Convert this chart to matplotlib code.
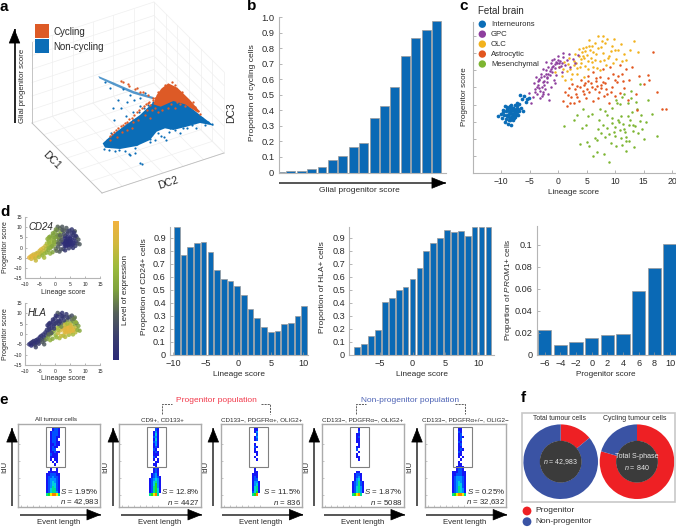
import numpy as np
import matplotlib
matplotlib.use('Agg')
import matplotlib.pyplot as plt
from matplotlib.patches import Polygon, Rectangle, Circle
from matplotlib.colors import LinearSegmentedColormap, ListedColormap

plt.rcParams['font.family'] = ['Liberation Sans', 'DejaVu Sans']
plt.rcParams['mathtext.fontset'] = 'custom'
plt.rcParams['mathtext.rm'] = 'Liberation Sans'
plt.rcParams['mathtext.it'] = 'Liberation Sans:italic'
plt.rcParams['mathtext.bf'] = 'Liberation Sans:bold'

# ---------- panel b
glial_values = [0.002, 0.01, 0.007, 0.022, 0.035, 0.08, 0.105, 0.165, 0.19, 0.35, 0.425, 0.55, 0.75, 0.865, 0.915, 0.975]
# ---------- panel d bars
cd24_values = [0.98, 0.765, 0.83, 0.86, 0.87, 0.79, 0.655, 0.585, 0.57, 0.53, 0.46, 0.35, 0.285, 0.215, 0.18, 0.185, 0.235, 0.245, 0.30, 0.375]
hla_values = [0.065, 0.085, 0.145, 0.195, 0.405, 0.435, 0.495, 0.525, 0.585, 0.67, 0.795, 0.86, 0.90, 0.955, 0.945, 0.95, 0.91, 0.985, 0.985, 0.985]
prom1_scores = [-6, -4, -2, 0, 2, 4, 6, 8, 10]
prom1_values = [0.0225, 0.009, 0.0115, 0.0155, 0.0185, 0.019, 0.0585, 0.079, 0.101]

# ---------- panel a: projected clouds
a_noncycling_outline_x = [38, 60, 100, 150, 190, 230, 280, 330, 372, 330, 290, 250, 225, 200, 180, 140, 90, 45]
a_noncycling_outline_y = [235, 215, 185, 150, 112, 100, 110, 150, 182, 174, 185, 195, 190, 200, 225, 243, 252, 248]
a_cycling_outline_x = [235, 262, 300, 330, 322, 285, 250, 212, 190, 200, 215]
a_cycling_outline_y = [55, 68, 105, 140, 142, 118, 108, 125, 118, 90, 70]
a_wing_x = [25, 70, 130, 190, 190, 130, 70, 28]
a_wing_y = [33, 52, 78, 96, 103, 86, 60, 40]
a_noncycling_x = [42, 58, 75, 88, 105, 118, 135, 62, 80, 98, 112, 128, 148, 162, 175, 190, 205, 222, 238, 255, 270, 292, 305, 318, 85, 92, 70, 120, 133, 150, 165, 150, 180, 195, 212, 228, 240, 260, 278, 295, 150, 155, 100, 110, 128, 60, 45, 108, 72, 170, 225, 245, 205, 185, 315, 345, 355, 365, 335, 290, 230, 215, 50, 115, 140, 180, 255, 270, 120, 135]
a_noncycling_y = [252, 256, 258, 254, 258, 266, 263, 205, 200, 190, 178, 165, 140, 128, 120, 112, 205, 215, 200, 195, 205, 190, 180, 188, 105, 130, 128, 90, 105, 122, 85, 100, 232, 225, 212, 225, 190, 180, 190, 175, 294, 297, 72, 112, 142, 68, 50, 152, 165, 165, 150, 165, 172, 200, 170, 180, 172, 178, 160, 140, 135, 150, 226, 232, 238, 222, 160, 150, 270, 250]
a_cycling_x = [60, 72, 85, 98, 110, 125, 140, 155, 168, 178, 185, 195, 205, 180, 170, 215, 235, 255, 270, 285, 300, 315, 325, 330, 245, 225, 205, 195, 255, 275, 100, 118, 135, 150, 92, 115, 140, 160, 175, 190, 165, 180, 130, 145, 95, 110, 125, 60, 80, 310, 66, 78, 92, 104, 118, 132, 148, 162, 175, 188, 205, 222, 242, 262]
a_cycling_y = [212, 202, 190, 180, 170, 158, 142, 130, 118, 110, 135, 128, 142, 120, 135, 135, 128, 128, 118, 122, 122, 125, 138, 148, 50, 60, 80, 100, 60, 82, 52, 62, 72, 82, 48, 58, 68, 80, 90, 98, 150, 158, 172, 165, 200, 195, 188, 225, 215, 112, 206, 194, 184, 175, 163, 150, 136, 124, 114, 104, 118, 112, 118, 110]

# ---------- panel c: fetal brain cells (lineage, progenitor)
intern_x = [-10.6, -10.1, -9.9, -9.7, -9.5, -9.4, -9.2, -9.1, -9.0, -8.9, -8.8, -8.7, -8.6, -8.5, -8.4, -8.3, -8.2, -8.1, -8.0, -7.9, -7.8, -7.7, -7.6, -7.5, -7.4, -7.3, -7.2, -7.1, -7.0, -6.8, -6.6, -6.4, -6.2, -6.0, -5.7, -5.4, -5.1, -8.9, -8.5, -8.3, -8.0, -7.9, -7.6, -7.4, -8.7, -8.2, -7.7, -7.2, -9.3, -6.7, -8.6, -8.1, -7.8, -8.4, -7.5, -9.6, -9.0, -6.9]
intern_y = [-3.4, -2.6, -4.0, -1.6, -3.0, -5.0, -2.0, -4.2, -0.8, -3.0, -5.6, -1.8, -3.6, -0.4, -4.6, -2.4, -6.0, -3.2, -0.9, -4.4, -1.9, -2.9, -0.2, -3.6, -1.2, -2.3, 0.6, -1.4, -3.0, 0.2, -0.9, 1.6, -1.8, 2.4, 0.8, 1.6, 2.0, -1.2, -2.0, -3.8, -2.6, -1.1, -2.0, -3.0, -4.6, -0.1, -3.9, -0.4, -0.5, 2.9, -2.8, -1.6, -3.2, -1.0, -2.6, -2.2, -3.4, -2.0]
gpc_x = [-5.1, -4.5, -4.2, -4.0, -3.9, -3.7, -3.5, -3.3, -3.2, -3.0, -2.8, -2.7, -2.5, -2.3, -2.2, -2.0, -1.8, -1.7, -1.5, -1.3, -1.2, -1.0, -0.8, -0.7, -0.5, -0.3, -0.2, 0.0, 0.2, 0.4, 0.6, 0.9, 1.2, 1.6, 2.1, -3.4, -2.9, -2.4, -1.9, -1.4, -0.9, -0.4, -3.8, -3.1, -2.6, 1.9, 2.6, -1.1, -2.1, 0.8, 3.0, 3.5, -0.6, -1.6, -4.7, -2.7, -3.6, -3.0, -2.4, -1.8, -1.2, -0.6, 0.1, 0.7, -3.3, -2.6, -2.0, -1.0, -0.1, 0.5, -4.1, -2.2]
gpc_y = [3.4, 2.2, 6.4, 4.6, 8.1, 3.0, 5.8, 7.2, 4.0, 9.0, 2.5, 6.5, 8.2, 4.6, 10.0, 6.6, 3.0, 11.0, 8.6, 5.2, 12.0, 9.6, 7.0, 13.2, 10.6, 8.6, 12.2, 14.0, 10.8, 12.6, 9.4, 13.8, 11.6, 13.0, 11.0, 7.4, 5.2, 6.9, 7.8, 9.8, 11.2, 12.5, 5.0, 1.8, 3.6, 14.6, 13.2, 13.0, 12.4, 15.0, 12.0, 14.4, 6.2, 1.4, 0.6, 10.2, 6.8, 7.9, 5.8, 9.0, 10.4, 11.8, 12.2, 12.0, 4.9, 3.1, 8.0, 11.0, 13.0, 11.2, 3.8, 8.8]
olc_x = [-0.6, 0.2, 0.6, 1.0, 1.5, 1.9, 2.3, 2.7, 3.0, 3.4, 3.7, 4.0, 4.3, 4.6, 4.9, 5.2, 5.5, 5.8, 6.1, 6.4, 6.7, 7.0, 7.3, 7.6, 7.9, 8.2, 8.6, 9.0, 9.4, 9.8, 10.2, 10.6, 11.0, 11.5, 12.0, 12.6, 13.4, 14.0, 4.2, 4.5, 4.8, 3.2, 2.4, 5.9, 6.8, 7.8, 8.8, 9.6, 1.2, 2.0, 3.8, 5.4, 6.2, 7.4, 8.4, 10.0, 3.6, 4.4, 5.0, 5.6, 6.4, 7.0, 7.7, 8.1, 2.8, 3.3, 4.1, 4.7, 5.3, 6.0, 1.7, 0.9, 9.2, 11.3]
olc_y = [9.6, 11.0, 8.2, 12.5, 9.8, 13.6, 7.4, 11.4, 14.8, 9.0, 16.2, 12.0, 14.0, 8.0, 16.8, 10.4, 18.8, 13.6, 11.0, 17.8, 14.8, 19.8, 12.6, 16.8, 15.0, 18.0, 19.2, 14.0, 17.0, 19.0, 13.2, 16.0, 17.6, 14.8, 13.0, 16.0, 18.6, 15.2, 15.2, 13.6, 15.6, 12.2, 8.8, 12.4, 10.6, 19.8, 13.4, 12.0, 7.0, 10.4, 11.0, 17.0, 15.4, 10.0, 11.6, 15.8, 14.2, 16.4, 14.4, 16.0, 13.0, 16.4, 18.4, 13.0, 12.8, 10.6, 13.2, 11.2, 12.8, 17.0, 11.8, 10.4, 15.6, 12.6]
astro_x = [0.9, 1.2, 1.5, 1.9, 2.2, 2.5, 2.8, 3.1, 3.4, 3.7, 4.0, 4.3, 4.6, 4.9, 5.2, 5.5, 5.8, 6.1, 6.4, 6.7, 7.0, 7.3, 7.6, 7.9, 8.2, 8.5, 8.8, 9.1, 9.4, 9.7, 10.0, 10.4, 10.8, 11.2, 11.6, 12.0, 12.5, 13.0, 13.6, 14.2, 15.0, 16.0, 16.7, 17.4, 18.2, 18.9, 3.3, 4.8, 6.2, 7.5, 8.9, 10.5, 12.2, 13.9, 15.7, 5.1, 6.6, 8.0, 9.2, 3.9, 4.5, 5.3, 5.9, 6.9, 7.2, 7.8, 8.4, 2.1, 2.9, 1.7, 9.9, 10.9, 11.4]
astro_y = [1.0, 3.6, -0.4, 4.8, 2.2, 6.0, 0.4, 3.2, 5.4, 1.0, 7.0, 4.0, 5.8, 2.0, 8.4, 3.6, 6.2, 9.4, 4.6, 6.8, 1.8, 8.0, 4.8, 10.2, 6.2, 3.0, 7.6, 11.0, 5.0, 9.0, 2.4, 6.6, 11.6, 9.0, 4.8, 10.4, 7.0, 11.0, 3.0, 8.4, 6.0, 7.2, 15.4, 3.6, -1.4, -1.2, 2.2, 6.2, 1.0, 5.8, 0.6, 8.2, 1.4, -1.6, 8.6, 4.4, 7.6, 2.6, 3.8, 5.0, 3.0, 6.8, 5.0, 5.4, 3.6, 6.6, 4.6, 0.6, 4.4, 2.8, 7.0, 3.4, 6.8]
mes_x = [1.0, 2.7, 3.3, 3.9, 4.4, 4.9, 5.4, 5.9, 6.4, 6.8, 7.2, 7.6, 8.0, 8.3, 8.6, 8.9, 9.2, 9.5, 9.8, 10.1, 10.4, 10.7, 11.0, 11.3, 11.6, 11.9, 12.2, 12.5, 12.8, 13.1, 13.4, 13.7, 14.0, 14.3, 14.6, 15.0, 15.4, 15.8, 16.4, 17.3, 9.9, 10.6, 11.2, 11.8, 12.4, 13.0, 9.5, 10.2, 10.9, 7.8, 6.9, 5.2, 12.0, 13.2, 14.4, 8.5, 11.5, 12.8, 9.0, 7.4, 4.2, 5.0, 6.2, 10.0, 10.8, 11.4, 12.0, 12.7, 13.5, 9.4, 8.2, 7.0, 14.8, 13.9, 11.1, 12.3]
mes_y = [-6.2, -4.4, -3.0, -11.4, -1.4, -6.0, -12.0, -2.6, -9.8, -13.8, -4.6, -8.4, -14.4, -1.8, -6.8, -16.6, -11.2, -3.8, -8.0, -12.0, 0.4, -5.2, -9.6, 2.2, -7.0, -13.4, -3.2, -10.6, 4.0, -6.0, -12.4, 0.8, -8.4, 6.0, -3.0, -10.0, -5.0, 1.2, -2.8, -9.2, -6.6, -4.6, -11.8, -8.0, -6.0, -2.2, -1.0, 1.4, 0.2, -6.0, -10.4, -3.4, -9.4, -7.6, -4.8, -3.0, 3.0, 2.0, -8.6, -1.2, -6.8, -10.8, -15.0, -9.0, -7.4, -5.6, -10.6, -4.4, -6.2, -5.4, -9.4, -7.2, -7.0, -1.4, -3.4, 0.4]
fetal_names = ['Interneurons', 'GPC', 'OLC', 'Astrocytic', 'Mesenchymal']
fetal_colors = ['#0B6DB7', '#8E3F9E', '#F2B21E', '#E2561F', '#7DB531']

# ---------- panel d: small scatter (same cells, two expression levels)
d_lineage = [-8.6,-8.1,-7.9,-7.6,-7.3,-7.1,-6.8,-6.6,-6.3,-6.1,-5.8,-5.5,
             -5.4,-5.1,-4.9,-4.6,-4.4,-4.2,-3.9,-3.7,-3.5,-3.2,-3.0,-2.8,
             -2.7,-2.4,-2.2,-2.0,-1.8,-1.5,-1.3,-1.1,-0.9,-0.6,-0.4,-0.2,
             0.0,0.2,0.4,0.6,0.8,1.0,1.2,1.4,1.6,1.8,2.0,2.2,
             2.4,2.6,2.8,3.0,3.2,3.4,3.6,3.8,4.0,4.2,4.4,4.6,
             4.8,5.0,5.2,5.4,5.6,5.8,6.0,6.2,6.4,6.6,6.8,7.0,
             3.1,3.5,3.9,4.3,4.7,5.1,3.3,3.7,4.1,4.5,4.9,5.3,
             7.2,7.5,7.8,8.2,6.6,-1.6,-0.8,0.9,1.5,-3.6,-6.4,-2.0,
             -2.5,-1.6,-0.7,0.3,1.3,-1.9,-1.2,-0.3,0.7,1.7,2.5,-2.1,
             3.0,4.2,5.6,2.1,1.1,6.9,5.9,-0.1,0.5,3.4,2.0,6.3]
d_progenitor = [-5.0,-4.4,-5.6,-3.9,-4.9,-3.4,-4.3,-5.2,-3.0,-4.1,-2.6,-3.6,
                -4.7,-1.6,-3.1,-0.9,-2.4,-3.9,-0.2,-1.7,-3.0,0.8,-0.8,-2.5,
                2.0,0.6,-1.3,3.4,1.6,-0.2,4.6,2.7,0.7,6.0,3.8,1.5,
                7.6,-0.6,5.2,2.8,8.6,0.4,6.4,3.9,9.4,1.7,7.5,5.1,
                10.2,2.8,-0.8,8.4,0.8,5.6,3.4,9.6,1.7,6.8,4.2,-0.4,
                8.3,2.4,5.4,0.9,7.1,3.6,-0.2,6.0,2.1,4.6,0.8,3.0,
                1.9,2.6,3.0,1.2,3.3,4.4,4.4,0.7,5.0,2.9,1.4,3.1,
                5.2,2.0,3.9,1.6,8.0,-3.0,-2.3,10.2,-2.0,-5.0,-6.4,5.0,
                4.2,5.4,7.0,8.9,4.8,2.4,0.5,2.6,6.0,6.0,8.6,-0.2,
                6.6,7.9,8.9,3.5,2.0,5.8,1.6,4.8,-1.6,-1.4,-0.9,7.4]
d_cd24 = [.95,.9,.85,.9,.95,.85,.9,.8,.85,.9,.8,.9,
          .7,.85,.8,.9,.75,.6,.85,.8,.65,.8,.75,.6,
          .7,.75,.55,.6,.7,.55,.6,.65,.5,.5,.6,.55,
          .5,.4,.55,.45,.4,.3,.5,.4,.4,.2,.5,.35,
          .3,.08,.2,.35,.1,.1,.03,.3,.05,.1,.02,.15,
          .15,.03,.05,.05,.1,.05,.1,.12,.05,.08,.15,.06,
          .03,.02,.04,.03,.02,.03,.04,.03,.05,.02,.03,.04,
          .25,.2,.3,.3,.3,.6,.5,.35,.3,.7,.8,.55,
          .6,.55,.5,.45,.45,.65,.55,.55,.45,.35,.3,.6,
          .25,.2,.12,.3,.35,.1,.04,.5,.35,.12,.25,.1]
d_hla = [.05,.1,.0,.08,.05,.1,.06,.15,.08,.05,.1,.06,
         .15,.05,.1,.1,.2,.3,.08,.12,.3,.08,.15,.45,
         .1,.12,.5,.08,.15,.6,.08,.1,.55,.06,.1,.6,
         .1,.65,.15,.7,.08,.8,.12,.6,.1,.85,.1,.3,
         .1,.9,.7,.15,.9,.5,.92,.12,.95,.4,.9,.7,
         .3,.95,.6,.9,.35,.85,.7,.45,.9,.6,.75,.8,
         .9,.92,.88,.95,.9,.85,.8,.9,.7,.95,.92,.88,
         .4,.6,.5,.55,.4,.6,.55,.3,.7,.3,.2,.1,
         .08,.08,.08,.08,.15,.12,.3,.15,.12,.12,.1,.35,
         .12,.15,.25,.45,.7,.6,.9,.12,.65,.75,.8,.4]
expression_colors = ['#2B2A78', '#3B3F6E', '#55605A', '#7FA23E', '#9DBB3C', '#D2B93E', '#F3B23F']

# ---------- panel e: flow density read as cells (digit = density class, 0 = empty)
flow_titles = ['All tumour cells', 'CD9+, CD133+', 'CD133−, PDGFRα+, OLIG2+', 'CD133−, PDGFRα−, OLIG2+', 'CD133−, PDGFRα+/−, OLIG2−']
flow_s = ['1.95%', '12.8%', '11.5%', '1.87%', '0.25%']
flow_n = ['42,983', '4427', '836', '5088', '32,632']
flow_grids = [
    ["0001221", "0012221", "0012221", "0012211", "0012210", "0012211", "0011211", "0012110", "0012200",
     "0011211", "0021110", "0011110", "0010110", "0001010", "0000100", "0000000", "0010010", "0111110",
     "1122211", "1223221", "1233321", "1234321", "1234421", "1235421", "1245521", "1245531", "5678875"],
    ["0000210", "0001310", "0001410", "0002310", "0001410", "0002310", "0001310", "0001210", "0002100",
     "0001210", "0001110", "0002100", "0001010", "0000110", "0001100", "0000100", "0001210", "0001210",
     "0012310", "0012321", "0123431", "0124531", "0124631", "0125631", "0125641", "0125641", "0567850"],
    ["0001100", "0001300", "0000200", "0001300", "0001200", "0000000", "0001000", "0002100", "0001000",
     "0001100", "0000100", "0001000", "0000100", "0000000", "0000000", "0000000", "0001000", "0001100",
     "0011100", "0012100", "0012200", "0013310", "0013410", "0014510", "0014510", "0024610", "0056800"],
    ["0000100", "0000200", "0001100", "0001200", "0001100", "0001100", "0000100", "0001100", "0002000",
     "0000100", "0001000", "0001100", "0000100", "0000000", "0000000", "0000000", "0000000", "0001100",
     "0012210", "0012310", "0013410", "0123521", "0123521", "0124531", "0124531", "0124531", "0567850"],
    ["0001100", "0002100", "0001200", "0001210", "0001200", "0002100", "0001200", "0001100", "0001210",
     "0002100", "0001100", "0001010", "0000100", "0001000", "0001100", "0011110", "0012210", "1112211",
     "1122211", "1233321", "1233321", "1234321", "1234421", "1235421", "1235431", "1235431", "5678875"],
]
flow_colors = ['#1414F5', '#0050FF', '#0090FF', '#00CFE0', '#00DF90', '#20DF20', '#F0F000', '#FF8000', '#E01010']

# ---------- panel f
donut_total = [0.14, 0.86]
donut_cycling = [0.795, 0.205]
donut_colors = ['#EE2024', '#3A53A4']

BAR = '#0A69B5'
BAR_EDGE = '#9A9A9A'
TXT = '#2A2A2A'
W, H = 676, 527
fig = plt.figure(figsize=(W / 100, H / 100), dpi=100, facecolor='white')


def axpx(l, t, r, b, **kw):
    return fig.add_axes([l / W, 1 - b / H, (r - l) / W, (b - t) / H], **kw)


def style(ax, size=7):
    for s in ('top', 'right'):
        ax.spines[s].set_visible(False)
    for s in ('left', 'bottom'):
        ax.spines[s].set_color('#B5B5B5')
        ax.spines[s].set_linewidth(0.8)
    ax.tick_params(length=2, width=0.5, color='#999999', direction='in', labelsize=size, labelcolor=TXT, pad=3)


ov = axpx(0, 0, W, H, zorder=20)
ov.set_xlim(0, W)
ov.set_ylim(H, 0)
ov.axis('off')


def T(x, y, s, size=6.5, ha='center', va='center', **kw):
    kw.setdefault('color', TXT)
    ov.text(x, y, s, fontsize=size, ha=ha, va=va, **kw)


def arrow(x0, y0, x1, y1, shaft='#555555', lw=1.4, hl=1.05, hw=0.42):
    ov.plot([x0, x1], [y0, y1], color=shaft, lw=lw, solid_capstyle='butt')
    dx, dy = x1 - x0, y1 - y0
    d = np.hypot(dx, dy)
    ov.annotate('', xy=(x1, y1), xytext=(x1 - dx / d * 9, y1 - dy / d * 9),
                arrowprops=dict(arrowstyle=f'-|>,head_length={hl},head_width={hw}', color='black', lw=0.5,
                                shrinkA=0, shrinkB=0, mutation_scale=9))


for lab, x, y in [('a', 4, 7), ('b', 252, 6), ('c', 464, 6), ('d', 5, 212), ('e', 4, 400), ('f', 523, 398)]:
    T(x, y, lab, size=11, fontweight='bold', color='black')

# ---- a : 3D box
L, F, R, B = np.array([32, 123.]), np.array([102, 193.]), np.array([224, 153.]), np.array([154, 83.])
up = np.array([0, -81.])
grid_c = '#EFEFEF'
n = 7
for t in np.linspace(0, 1, n):
    for p, q in [(L + (B - L) * t, F + (R - F) * t), (L + (F - L) * t, B + (R - B) * t),
                 (L + (B - L) * t, L + (B - L) * t + up), (B + (R - B) * t, B + (R - B) * t + up),
                 (L + up * t, B + up * t), (B + up * t, R + up * t)]:
        ov.plot([p[0], q[0]], [p[1], q[1]], color=grid_c, lw=0.5, zorder=1)
for p, q in [(L, F), (F, R)]:
    ov.plot([p[0], q[0]], [p[1], q[1]], color='#BDBDBD', lw=0.6, zorder=1)
ov.plot([L[0], L[0]], [L[1], L[1] + up[1]], color='#BDBDBD', lw=0.6, zorder=1)

aa = axpx(90, 65, 230, 175, zorder=21)
aa.set_xlim(0, 420)
aa.set_ylim(330, 0)
aa.axis('off')
aa.add_patch(Polygon(np.c_[a_wing_x, a_wing_y], fc='#0B6DB7', ec='none', alpha=0.7))
aa.add_patch(Polygon(np.c_[a_noncycling_outline_x, a_noncycling_outline_y], fc='#0B6DB7', ec='none', zorder=2))
aa.scatter(a_noncycling_x, a_noncycling_y, s=2.5, color='#0B6DB7', lw=0, zorder=2)
aa.add_patch(Polygon(np.c_[a_cycling_outline_x, a_cycling_outline_y], fc='#DD5A26', ec='none', zorder=3))
aa.scatter(a_cycling_x, a_cycling_y, s=2.8, color='#DD5A26', lw=0, zorder=3)

arrow(14.5, 123, 14.5, 29, shaft='black', lw=1.2)
ov.add_patch(Rectangle((35, 24), 14, 14, fc='#DD5A26', ec='none'))
ov.add_patch(Rectangle((35, 39), 14, 14, fc='#0B6DB7', ec='none'))
T(53.5, 32, 'Cycling', size=7, ha='left')
T(53.5, 47, 'Non-cycling', size=7, ha='left')
T(23, 86, 'Glial progenitor score', size=5.6, rotation=90)
T(52, 160, 'DC1', size=7.5, rotation=-45)
T(168, 183, 'DC2', size=7.5, rotation=18)
T(231, 113, 'DC3', size=7.5, rotation=90)

# ---- b
ab = axpx(278.5, 17, 446, 172.5, zorder=5)
style(ab, 6.7)
ab.bar(np.arange(16), glial_values, width=0.85, color=BAR, edgecolor=BAR_EDGE, linewidth=0.5)
ab.set_xlim(-0.17, 15.9)
ab.set_ylim(0, 1)
ab.set_yticks(np.arange(0, 1.01, 0.1))
ab.set_yticklabels(['0', '0.1', '0.2', '0.3', '0.4', '0.5', '0.6', '0.7', '0.8', '0.9', '1.0'])
ab.set_xticks([])
T(253, 93, 'Proportion of cycling cells', size=6.0, rotation=90)
arrow(279, 183, 446, 183)
T(359, 191, 'Glial progenitor score', size=6.0)

# ---- c
ac = axpx(473.3, 22, 676, 172.7, zorder=5)
style(ac, 6.2)
for xs, ys, col in zip([mes_x, astro_x, olc_x, gpc_x, intern_x], [mes_y, astro_y, olc_y, gpc_y, intern_y], fetal_colors[::-1]):
    ac.scatter(xs, ys, s=3.2 if col != fetal_colors[0] else 7, color=col, lw=0)
ac.set_xlim(-14.9, 20.7)
ac.set_ylim(-19.8, 24)
ac.set_xticks([-10, -5, 0, 5, 10, 15, 20])
ac.set_yticks(np.arange(-15, 21, 5))
ac.set_yticklabels([])
T(464, 97, 'Progenitor score', size=5.8, rotation=90)
T(573.5, 193, 'Lineage score', size=5.9)
T(477.5, 11.5, 'Fetal brain', size=7, ha='left')
for i, (nm, col) in enumerate(zip(fetal_names, fetal_colors)):
    yy = 24.2 + i * 9.95
    ov.add_patch(Circle((482.3, yy), 3.7, fc=col, ec='none'))
    T(491, yy, nm, size=5.6, ha='left')

# ---- d small scatter
expr = LinearSegmentedColormap.from_list('expr', expression_colors)
for top, bottom, level, name in [(217, 278, d_cd24, 'CD24'), (303, 365, d_hla, 'HLA')]:
    am = axpx(25, top, 100, bottom, zorder=5)
    style(am, 3.6)
    am.scatter(d_lineage, d_progenitor, c=level, cmap=expr, vmin=0, vmax=1, s=10, lw=0, alpha=0.85)
    am.set_xlim(-10, 15)
    am.set_ylim(-15, 15)
    am.set_xticks(np.arange(-10, 16, 5))
    am.set_yticks(np.arange(-15, 16, 5))
    am.tick_params(axis='x', pad=3, length=1.5)
    am.tick_params(axis='y', pad=2, length=1.5)
    T(63, bottom + 14, 'Lineage score', size=5)
    T(6, (top + bottom) / 2, 'Progenitor score', size=5, rotation=90)
    T(28, top + 10, name, size=7, ha='left', style='italic')

cb = axpx(112.7, 220.7, 118.7, 360, zorder=5)
cb.imshow(np.linspace(1, 0, 128)[:, None], cmap=expr, aspect='auto')
cb.axis('off')
T(125.5, 290, 'Level of expression', size=5.9, rotation=90)

# ---- d bars
a1 = axpx(170, 226.7, 308, 355, zorder=5)
style(a1, 6.6)
a1.bar(np.arange(20) * 1.03 - 9.45, cd24_values, width=0.86, color=BAR, edgecolor=BAR_EDGE, linewidth=0.5)
a1.set_xlim(-10.5, 10.7)
a1.set_ylim(0, 0.984)
a1.set_xticks([-10, -5, 0, 5, 10])
a1.set_yticks(np.arange(0, 0.91, 0.1))
a1.set_yticklabels(['0', '0.1', '0.2', '0.3', '0.4', '0.5', '0.6', '0.7', '0.8', '0.9'])
T(144, 287, 'Proportion of CD24+ cells', size=6.05, rotation=90)
T(238.7, 375, 'Lineage score', size=5.95)

a2 = axpx(349.3, 226.7, 494.3, 355, zorder=5)
style(a2, 6.6)
a2.bar(np.arange(20) * 1.056 - 8.47, hla_values, width=0.88, color=BAR, edgecolor=BAR_EDGE, linewidth=0.5)
a2.set_xlim(-9.7, 12.5)
a2.set_ylim(0, 0.984)
a2.set_xticks([-5, 0, 5, 10])
a2.set_yticks(np.arange(0, 0.91, 0.1))
a2.set_yticklabels(['0', '0.1', '0.2', '0.3', '0.4', '0.5', '0.6', '0.7', '0.8', '0.9'])
T(323, 287, 'Proportion of HLA+ cells', size=6.0, rotation=90)
T(422, 375, 'Lineage score', size=5.95)

a3 = axpx(536.7, 225.7, 676, 355, zorder=5)
style(a3, 6.6)
a3.bar(prom1_scores, prom1_values, width=1.7, color=BAR, edgecolor=BAR_EDGE, linewidth=0.5)
a3.set_xlim(-7.02, 10.76)
a3.set_ylim(0, 0.1175)
a3.set_xticks(prom1_scores)
a3.set_yticks([0, 0.02, 0.04, 0.06, 0.08, 0.1])
a3.set_yticklabels(['0', '0.02', '0.04', '0.06', '0.08', '0.1'])
T(508, 290, r'Proportion of $\mathit{PROM1}$+ cells', size=5.9, rotation=90)
T(606, 375, 'Progenitor score', size=5.85)

# ---- e
flow_lefts = [18.3, 119.3, 220.7, 322.3, 424.5]
flow_arrow_x = [12, 113.3, 213.3, 314.3, 417]
flow_title_x = [55.7, 162, 261.3, 362.5, 465]
density = ListedColormap(flow_colors)
for i, left in enumerate(flow_lefts):
    axf = axpx(left, 424.3, left + 81.5, 506.7, zorder=5)
    grid = np.array([[int(c) for c in row] for row in flow_grids[i]], dtype=float)
    grid = np.ma.masked_where(grid == 0, grid)
    xe = 27.7 + np.arange(grid.shape[1] + 1) * 2.0
    ye = 3.7 + np.arange(grid.shape[0] + 1) * 2.5
    axf.pcolormesh(xe, ye, grid, cmap=density, vmin=0.5, vmax=9.5, shading='flat')
    axf.add_patch(Rectangle((28, 2.4), 19, 40, fc='none', ec='#808080', lw=0.8))
    axf.set_xlim(0, 81.5)
    axf.set_ylim(82.4, 0)
    for s in axf.spines.values():
        s.set_color('#ABABAB')
        s.set_linewidth(1)
    axf.set_xticks(np.arange(3, 40, 6))
    axf.set_yticks([20, 37, 54, 71])
    axf.set_xticklabels([])
    axf.set_yticklabels([])
    axf.tick_params(length=1.5, width=0.4, color='#999999', direction='in')
    right = left + 81
    T(right - 0.5, 491, r'$\mathit{S}$ = ' + flow_s[i], size=5.7, ha='right')
    T(right - 0.5, 502.3, r'$\mathit{n}$ = ' + flow_n[i], size=5.7, ha='right')
    T(flow_title_x[i], 419.5, flow_titles[i], size=4.5)
    ax_ = flow_arrow_x[i]
    arrow(ax_, 506, ax_, 428)
    T(ax_ - 7.5, 467, 'IdU', size=5.6, rotation=90)
    arrow(left + 1.7, 514.7, left + 82.7, 514.7)
    T(left + 40, 522.5, 'Event length', size=5.6)

T(216.7, 400, 'Progenitor population', size=6, color='#F2394B')
T(410, 400, 'Non-progenitor population', size=6, color='#4C62B5')
for xs in ([162.3, 162.3, 171.7], [261, 270.3, 270.3], [356.3, 356.3, 366], [455.3, 464.7, 464.7]):
    ys = [414, 404.3, 404.3] if xs[0] == xs[1] else [404.3, 404.3, 414]
    ov.plot(xs, ys, color='#444444', lw=0.6, ls=(0, (2.5, 1.2)))

# ---- f
ov.add_patch(Rectangle((521.7, 413.3), 153.3, 88.4, fc='none', ec='#C8C8C8', lw=1.2))
for cx, values in [(560.7, donut_total), (637, donut_cycling)]:
    ad = axpx(cx - 38, 461.7 - 38, cx + 38, 461.7 + 38, zorder=6)
    ad.pie(values, colors=donut_colors, startangle=90, counterclock=False, radius=37.3,
           wedgeprops=dict(width=16.6, linewidth=0))
    ad.add_patch(Circle((0, 0), 20.9, fc='#3B3B3B', ec='none', zorder=5))
    ad.set_xlim(-38, 38)
    ad.set_ylim(-38, 38)
T(559, 418.3, 'Total tumour cells', size=4.9)
T(635, 418.3, 'Cycling tumour cells', size=5.0)
T(560.7, 462, r'$\mathit{n}$ = 42,983', size=5.0, color='#E8E8E8')
T(637, 456.5, 'Total S-phase', size=5.1, color='#E8E8E8')
T(637, 468, r'$\mathit{n}$ = 840', size=5.1, color='#E8E8E8')
ov.add_patch(Circle((527, 511), 4.4, fc=donut_colors[0], ec='none'))
ov.add_patch(Circle((527, 521.7), 4.4, fc=donut_colors[1], ec='none'))
T(535.7, 511, 'Progenitor', size=6, ha='left')
T(535.7, 521.7, 'Non-progenitor', size=6, ha='left')

fig.savefig('out.png', dpi=100)
